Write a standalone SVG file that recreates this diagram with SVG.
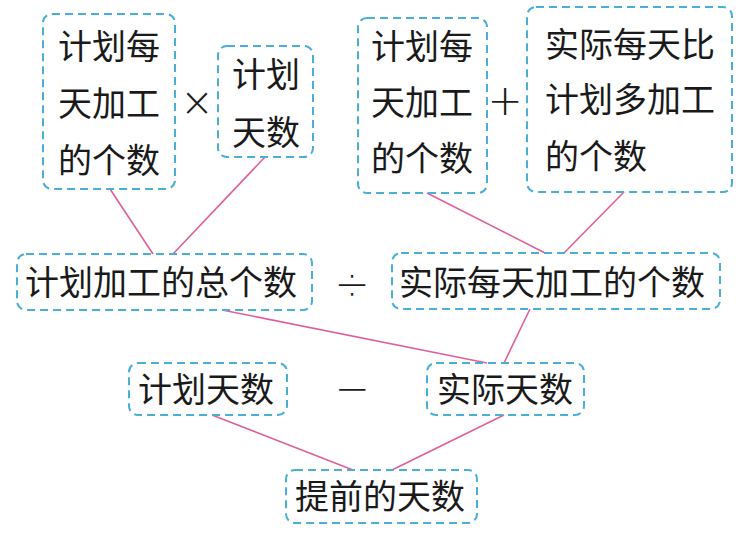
<svg xmlns="http://www.w3.org/2000/svg" width="754" height="536" viewBox="0 0 754 536">
<style>
.box{fill:none;stroke:#4aaed6;stroke-width:2;stroke-dasharray:8 5;}
.t{font-family:"Noto Sans CJK SC","Noto Sans",sans-serif;font-size:34px;fill:#1a1a1a;}
.op{font-family:"DejaVu Sans",sans-serif;font-weight:200;font-size:42px;fill:#1a1a1a;text-anchor:middle;dominant-baseline:central;}
.c{stroke:#e0609a;stroke-width:1.6;fill:none;}
</style>
<rect width="754" height="536" fill="#ffffff"/>
<g id="connectors">
<line class="c" x1="110" y1="189" x2="153" y2="254"/>
<line class="c" x1="265" y1="157" x2="173" y2="254"/>
<line class="c" x1="427" y1="193" x2="545" y2="253"/>
<line class="c" x1="624" y1="192" x2="564" y2="253"/>
<line class="c" x1="222" y1="310" x2="487" y2="363"/>
<line class="c" x1="530" y1="309" x2="504" y2="363"/>
<line class="c" x1="212" y1="415" x2="353" y2="470"/>
<line class="c" x1="504" y1="415" x2="392" y2="470"/>
</g>
<g id="n1">
<rect class="box" x="43" y="14" width="132" height="175" rx="9"/>
<text class="t" x="58" y="59">计划每</text>
<text class="t" x="58" y="116">天加工</text>
<text class="t" x="58" y="173">的个数</text>
</g>
<g id="op1"><text class="op" x="197" y="102" style="font-size:40px">×</text></g>
<g id="n2">
<rect class="box" x="218" y="46" width="95" height="111" rx="9"/>
<text class="t" x="232" y="87">计划</text>
<text class="t" x="232" y="145">天数</text>
</g>
<g id="n3">
<rect class="box" x="358" y="18" width="129" height="175" rx="9"/>
<text class="t" x="371" y="59">计划每</text>
<text class="t" x="371" y="115">天加工</text>
<text class="t" x="371" y="171">的个数</text>
</g>
<g id="op2"><text class="op" x="505" y="100">+</text></g>
<g id="n4">
<rect class="box" x="527" y="7" width="205" height="185" rx="9"/>
<text class="t" x="545" y="57">实际每天比</text>
<text class="t" x="545" y="112">计划多加工</text>
<text class="t" x="545" y="169">的个数</text>
</g>
<g id="n5">
<rect class="box" x="17" y="254" width="295" height="56" rx="9"/>
<text class="t" x="25" y="295">计划加工的总个数</text>
</g>
<g id="op3"><text class="op" x="352" y="283">÷</text></g>
<g id="n6">
<rect class="box" x="392" y="253" width="328" height="56" rx="9"/>
<text class="t" x="399" y="295">实际每天加工的个数</text>
</g>
<g id="n7">
<rect class="box" x="129" y="363" width="158" height="52" rx="9"/>
<text class="t" x="138" y="402">计划天数</text>
</g>
<g id="op4"><text class="op" x="352" y="388">−</text></g>
<g id="n8">
<rect class="box" x="427" y="363" width="157" height="52" rx="9"/>
<text class="t" x="437" y="402">实际天数</text>
</g>
<g id="n9">
<rect class="box" x="286" y="470" width="191" height="53" rx="9"/>
<text class="t" x="295" y="509">提前的天数</text>
</g>
</svg>
